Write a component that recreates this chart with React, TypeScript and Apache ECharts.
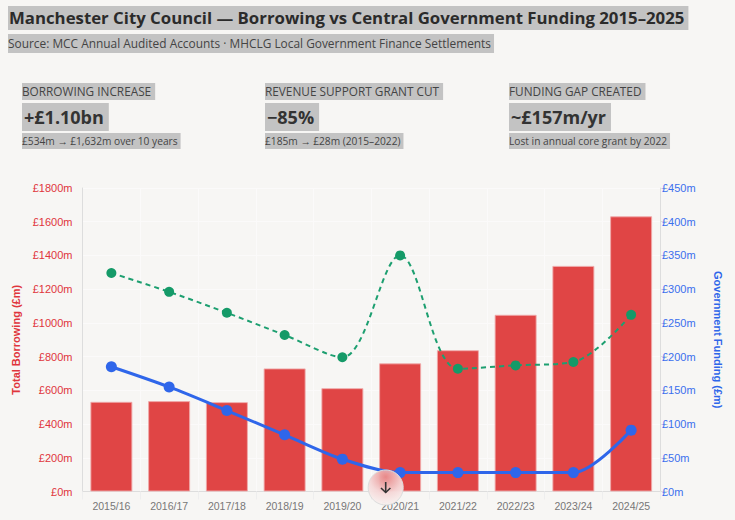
import React, { useEffect, useRef } from "react";
import * as echarts from "echarts";

const categories = ["2015/16", "2016/17", "2017/18", "2018/19", "2019/20", "2020/21", "2021/22", "2022/23", "2023/24", "2024/25"];
const borrowing = [532, 536, 530, 730, 613, 760, 838, 1048, 1338, 1632];
const totalFunding = [324, 296, 265, 232, 199, 350, 182, 187, 192, 262];
const coreGrant = [185, 155, 120, 84, 48, 28, 28, 28, 28, 91];
const kpiLabels = ["BORROWING INCREASE", "REVENUE SUPPORT GRANT CUT", "FUNDING GAP CREATED"];
const kpiValues = ["+£1.10bn", "−85%", "~£157m/yr"];
const kpiNotes = ["£534m → £1,632m over 10 years", "£185m → £28m (2015–2022)", "Lost in annual core grant by 2022"];
const kpiX = [22, 265, 509];

const SEL = "#c3c3c3";
const RED = "#e04545";
const BLUE = "#2f66ea";
const GREEN = "#1d9f70";
const UI = "'Open Sans', 'Liberation Sans', sans-serif";
const AX = "'Liberation Sans', Arial, sans-serif";

function t(x: number, y: number, text: string, fontSize: number, fontWeight: any, fill: string, padding: number[]) {
  return {
    type: "text", x, y, z: 10,
    style: { text, fontSize, fontWeight, fill, fontFamily: UI, backgroundColor: SEL, padding, verticalAlign: "top" },
  };
}

export default function App() {
  const ref = useRef<HTMLDivElement>(null);
  useEffect(() => {
    const chart = echarts.init(ref.current!, undefined, { renderer: "svg" });
    const graphics: any[] = [
      t(8, 6, "Manchester City Council — Borrowing vs Central Government Funding 2015–2025", 16.8, 700, "#2b2b2b", [3, 4, 4, 1]),
      t(8, 34, "Source: MCC Annual Audited Accounts · MHCLG Local Government Finance Settlements", 11.9, 400, "#444", [3, 3, 4, 0]),
    ];
    kpiX.forEach((x, i) => {
      graphics.push(t(x, 83, kpiLabels[i], 11.8, 400, "#444", [2, 4, 3, 0]));
      graphics.push(t(x, 103, kpiValues[i], 18, 700, "#333", [5, 5, 5, 2]));
      graphics.push(t(x, 133, kpiNotes[i], 10.2, 400, "#444", [3, 3, 3, 0]));
    });
    graphics.push(
      {
        type: "circle", z: 20, shape: { cx: 385.7, cy: 487.5, r: 17.5 },
        style: {
          fill: new echarts.graphic.RadialGradient(0.5, 0.2, 0.85, [
            { offset: 0, color: "rgba(232,140,140,0.95)" },
            { offset: 0.55, color: "rgba(245,215,215,0.96)" },
            { offset: 1, color: "rgba(248,246,244,0.98)" },
          ]),
          stroke: "#dcdcdc", lineWidth: 1,
        },
      },
      { type: "line", z: 21, shape: { x1: 385.7, y1: 482, x2: 385.7, y2: 492.5 }, style: { stroke: "#333", lineWidth: 1.6 } },
      { type: "polyline", z: 21, shape: { points: [[381, 488], [385.7, 492.5], [390.4, 488]] }, style: { stroke: "#333", lineWidth: 1.6, fill: "none" } }
    );
    chart.setOption({
      animation: false,
      backgroundColor: "#f7f6f4",
      graphic: graphics,
      grid: { left: 82.5, right: 75, top: 188, bottom: 28.5, containLabel: false },
      xAxis: {
        type: "category", data: categories,
        axisLine: { lineStyle: { color: "#dddddd" } },
        axisTick: { show: true, length: 8, alignWithLabel: false, lineStyle: { color: "#eeeeee" } },
        axisLabel: { color: "#777", fontSize: 10.5, fontFamily: AX, margin: 9 },
        splitLine: { show: true, lineStyle: { color: "#fbfafa", width: 1 } },
      },
      yAxis: [
        {
          type: "value", min: 0, max: 1800, interval: 200, position: "left",
          name: "Total Borrowing (£m)", nameLocation: "middle", nameGap: 57, nameRotate: 90,
          nameTextStyle: { color: "#e0353c", fontSize: 11, fontWeight: 700, fontFamily: AX },
          axisLine: { show: true, lineStyle: { color: "#dddddd" } },
          axisTick: { show: false },
          axisLabel: { color: "#e0353c", fontSize: 11, fontFamily: AX, margin: 10, formatter: (v: number) => `£${v}m` },
          splitLine: { show: true, lineStyle: { color: "#fbfafa", width: 1 } },
        },
        {
          type: "value", min: 0, max: 450, interval: 50, position: "right",
          name: "Government Funding (£m)", nameLocation: "middle", nameGap: 52, nameRotate: -90,
          nameTextStyle: { color: BLUE, fontSize: 11, fontWeight: 700, fontFamily: AX },
          axisLine: { show: true, lineStyle: { color: "#dddddd" } },
          axisTick: { show: true, length: 8, lineStyle: { color: "#dddddd" } },
          axisLabel: { color: "#3b6fee", fontSize: 11, fontFamily: AX, margin: 2, formatter: (v: number) => `£${v}m` },
          splitLine: { show: false },
        },
      ],
      series: [
        {
          type: "bar", data: borrowing, yAxisIndex: 0, barWidth: 42, z: 2,
          itemStyle: { color: RED, borderColor: "rgba(240,170,170,0.9)", borderWidth: 1 },
        },
        {
          type: "line", data: totalFunding, yAxisIndex: 1, smooth: 0.33, z: 3,
          symbol: "circle", symbolSize: 10,
          lineStyle: { color: GREEN, width: 2, type: [5, 4] },
          itemStyle: { color: "#159a68" },
        },
        {
          type: "line", data: coreGrant, yAxisIndex: 1, smooth: 0.3, z: 4,
          symbol: "circle", symbolSize: 11,
          lineStyle: { color: BLUE, width: 3 },
          itemStyle: { color: BLUE },
        },
      ],
    });
    return () => chart.dispose();
  }, []);
  return <div ref={ref} style={{ position: "fixed", left: 0, top: 0, width: 735, height: 520 }} />;
}
